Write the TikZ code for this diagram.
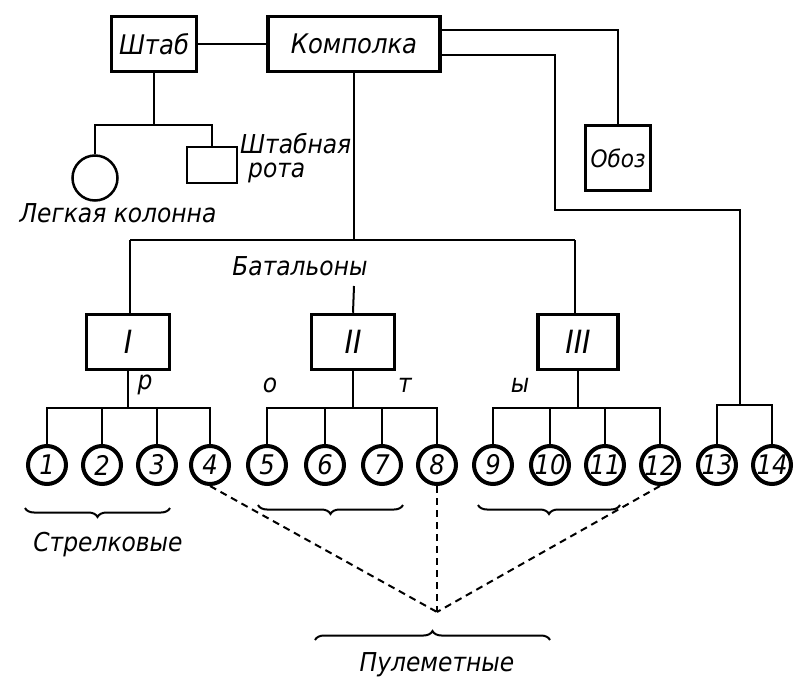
\documentclass[tikz,border=0pt]{standalone}
\usepackage{fontspec}
\setmainfont{DejaVu Sans Condensed}
\usetikzlibrary{decorations.pathreplacing}
\begin{document}
\begin{tikzpicture}[x=1pt,y=-1pt,
  ln/.style={line width=2pt},
  bx/.style={draw,line width=3.5pt,minimum height=55pt,inner sep=0pt,font=\itshape\fontsize{27}{27}\selectfont},
  cir/.style={draw,circle,line width=4pt,minimum size=38pt,inner sep=0pt,font=\itshape\fontsize{27}{27}\selectfont},
  lab/.style={font=\itshape\fontsize{26}{28}\selectfont,inner sep=0pt},
  br/.style={decorate,decoration={brace,amplitude=9pt},line width=2pt},
  dsh/.style={line width=2pt,dash pattern=on 7pt off 5pt}]
\useasboundingbox (0,0) rectangle (800,690);
\node[bx,minimum width=85pt] (shtab) at (154,44) {Штаб};
\node[bx,minimum width=172pt] (komp) at (354,44) {Комполка};
\node[bx,minimum width=65pt,minimum height=65pt,font=\itshape\fontsize{24}{24}\selectfont] (oboz) at (618,158) {Обоз};
\node[draw,circle,line width=2.5pt,minimum size=45pt] (lk) at (95,178) {};
\node[draw,line width=2.5pt,minimum width=50pt,minimum height=36pt] (sr) at (212,165) {};
\node[lab,align=left,anchor=west] (srt) at (240,158) {Штабная\\[-4pt]\hspace*{8pt}рота};
\node[lab] (lkt) at (118,213) {Легкая колонна};
\node[lab] (bat) at (300,266) {Батальоны};
\node[bx,minimum width=83pt,font=\fontsize{32}{32}\selectfont] (b1) at (128,342) {\textit{I}};
\node[bx,minimum width=83pt,font=\fontsize{32}{32}\selectfont] (b2) at (353,342) {\textit{II}};
\node[bx,minimum width=80pt,font=\fontsize{32}{32}\selectfont] (b3) at (578,342) {\textit{III}};
\foreach \i/\x in {1/47,2/102,3/157,4/210,5/267,6/325,7/382,8/437,9/493,10/550,11/605,12/660,13/717,14/772}
  \node[cir] (c\i) at (\x,465) {\i};
\node[lab] (lp) at (145,385) {р};
\node[lab] (lo) at (270,385) {о};
\node[lab] (lt) at (405,385) {т};
\node[lab] (ly) at (520,385) {ы};
\node[lab] (str) at (108,545) {Стрелковые};
\node[lab] (pul) at (437,665) {Пулеметные};
\coordinate (m) at (437,612);
% connectors
\draw[ln] (shtab.east) -- (komp.west);
\draw[ln] (komp.east|-0,30) -| (oboz.north);
\draw[ln] (komp.east|-0,55) -| (555,210) -| (740,405);
\draw[ln] (shtab.south) -- (154,125);
\draw[ln] (lk.north) |- (sr.north|-0,125) -- (sr.north);
\draw[ln] (komp.south) -- (354,240);
\draw[ln] (130,240) -- (575,240);
\draw[ln] (130,240) -- (b1.north-|130,0);
\draw[ln] (575,240) -- (b3.north-|575,0);
\draw[ln] (354,286) -- (b2.north);
\draw[ln] (b1.south) -- (128,408);
\draw[ln] (b2.south) -- (353,408);
\draw[ln] (b3.south) -- (578,408);
\draw[ln] (c1.north) |- (c4.north|-0,408) -- (c4.north);
\draw[ln] (c2.north) -- (102,408); \draw[ln] (c3.north) -- (157,408);
\draw[ln] (c5.north) |- (c8.north|-0,408) -- (c8.north);
\draw[ln] (c6.north) -- (325,408); \draw[ln] (c7.north) -- (382,408);
\draw[ln] (c9.north) |- (c12.north|-0,408) -- (c12.north);
\draw[ln] (c10.north) -- (550,408); \draw[ln] (c11.north) -- (605,408);
\draw[ln] (c13.north) |- (c14.north|-0,405) -- (c14.north);
\draw[dsh] (c4.south) -- (m);
\draw[dsh] (c8.south) -- (m);
\draw[dsh] (c12.south) -- (m);
% braces
\draw[br] (170,508) -- (25,508);
\draw[br] (403,505) -- (258,505);
\draw[br] (620,505) -- (478,505);
\draw[br] (315,640) -- (550,640);
\end{tikzpicture}
\end{document}
